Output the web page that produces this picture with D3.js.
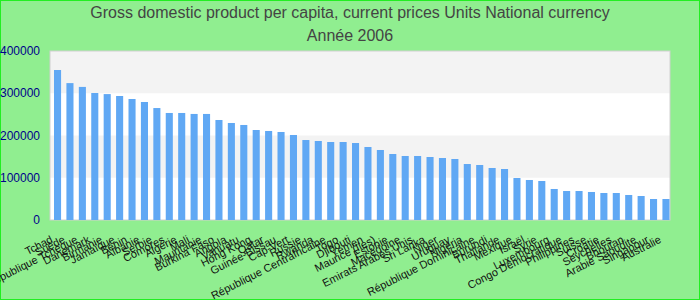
<!DOCTYPE html>
<html>
<head>
<meta charset="utf-8">
<script src="https://cdn.jsdelivr.net/npm/d3@7"></script>
<style>
  body { margin: 0; }
  svg { display: block; }
</style>
</head>
<body>
<div id="chart"></div>
<script>
var countries = ["Tchad", "Suède", "République Tchèque", "Danemark", "Birmanie", "Jamaïque", "Bénin",
    "Albanie", "Serbie", "Comores", "Algérie", "Mali", "Mauritanie", "Burkina Faso", "Angola", "Vanuatu",
    "Hong Kong", "Qatar", "Guinée-Bissau", "Cap-Vert", "Russie", "Rwanda", "République Centrafricaine",
    "Togo", "Djibouti", "Yémen", "Maurice (Iles)", "Estonie", "Macédoine", "Emirats Arabes Unis",
    "Sri Lanka", "Niger", "Uruguay", "Nigéria", "République Dominicaine", "Burundi", "Thaïlande",
    "Mexique", "Israël", "Syrie", "Luxembourg", "Congo Démocratique", "Philippines", "Suisse",
    "Croatie", "Seychelles", "Bhoutan", "Arabie Saoudite", "Singapour", "Australie"];

var values = [355000, 324000, 315000, 300600, 298000, 293500, 286400, 279300, 265000, 253300,
    253300, 251000, 251000, 236700, 229600, 224900, 213000, 210700, 208300, 201200,
    189300, 187000, 184600, 184600, 182200, 172800, 165700, 156200, 151500, 151500,
    149100, 146700, 144400, 132500, 130200, 123100, 120700, 99400, 94700, 92300,
    73400, 68600, 68600, 66300, 63900, 63900, 59200, 56800, 49700, 49700];

var yTicks = [0, 100000, 200000, 300000, 400000];

var titleLines = ["Gross domestic product per capita, current prices Units National currency", "Année 2006"];

var width = 700,
    height = 300;

var data = countries.map(function(c, i) { return { name: c, value: values[i] }; });

var svg = d3.select("#chart").append("svg")
    .attr("width", width)
    .attr("height", height);

svg.append("rect")
    .attr("x", 0.5).attr("y", 0.5)
    .attr("width", width - 1).attr("height", height - 1)
    .attr("fill", "#90ee90")
    .attr("stroke", "#22ee22");

var x = d3.scaleBand()
    .domain(countries)
    .range([53.5, 670])
    .paddingInner(0.43)
    .paddingOuter(0.04);

var y = d3.scaleLinear()
    .domain([0, 400000])
    .range([220, 51]);

// plot background + alternating bands
svg.append("rect")
    .attr("x", 50).attr("y", y(400000))
    .attr("width", 620).attr("height", y(0) - y(400000))
    .attr("fill", "#fff");

svg.selectAll(".band")
    .data([[300000, 400000], [100000, 200000]])
    .enter().append("rect")
    .attr("class", "band")
    .attr("x", 50)
    .attr("y", function(d) { return y(d[1]); })
    .attr("width", 620)
    .attr("height", function(d) { return y(d[0]) - y(d[1]); })
    .attr("fill", "#f3f3f3");

svg.append("rect")
    .attr("x", 50).attr("y", y(400000))
    .attr("width", 620).attr("height", y(0) - y(400000))
    .attr("fill", "none")
    .attr("stroke", "#d0d0d0");

svg.selectAll(".bar")
    .data(data)
    .enter().append("rect")
    .attr("class", "bar")
    .attr("x", function(d) { return x(d.name); })
    .attr("y", function(d) { return y(d.value); })
    .attr("width", x.bandwidth())
    .attr("height", function(d) { return y(0) - y(d.value); })
    .attr("fill", "#60a8f4");

// y axis labels
svg.selectAll(".ylab")
    .data(yTicks)
    .enter().append("text")
    .attr("class", "ylab")
    .attr("x", 40)
    .attr("y", function(d) { return y(d); })
    .attr("dy", "0.35em")
    .attr("text-anchor", "end")
    .attr("font-family", "Liberation Sans, Arial, sans-serif")
    .attr("font-size", 12)
    .attr("fill", "#00008b")
    .text(function(d) { return d; });

// x labels, rotated
svg.selectAll(".xlab")
    .data(countries)
    .enter().append("text")
    .attr("class", "xlab")
    .attr("transform", function(d) {
        return "translate(" + (x(d) + x.bandwidth() / 2 - 4) + ",242) rotate(-27)";
    })
    .attr("text-anchor", "end")
    .attr("font-family", "Liberation Sans, Arial, sans-serif")
    .attr("font-size", 11)
    .attr("fill", "#111")
    .text(function(d) { return d; });

// title
svg.selectAll(".title")
    .data(titleLines)
    .enter().append("text")
    .attr("class", "title")
    .attr("x", width / 2)
    .attr("y", function(d, i) { return 18 + i * 23; })
    .attr("text-anchor", "middle")
    .attr("font-family", "Liberation Sans Narrow, Arial Narrow, sans-serif")
    .attr("font-size", 16)
    .attr("fill", "#444")
    .text(function(d) { return d; });
</script>
</body>
</html>
